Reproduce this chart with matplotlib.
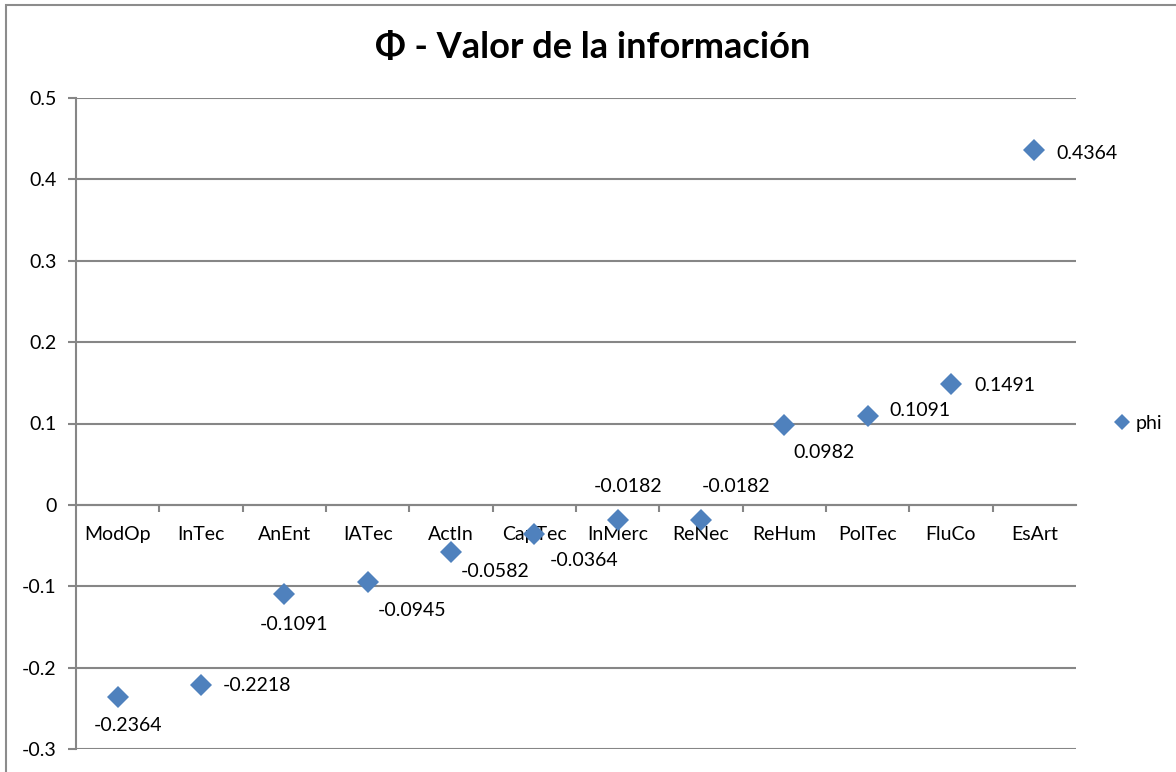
import matplotlib.pyplot as plt
from matplotlib.patches import Rectangle
from matplotlib.ticker import FixedLocator

categories = ["ModOp", "InTec", "AnEnt", "IATec", "ActIn", "CapTec",
              "InMerc", "ReNec", "ReHum", "PolTec", "FluCo", "EsArt"]
phi = [-0.2364, -0.2218, -0.1091, -0.0945, -0.0582, -0.0364,
       -0.0182, -0.0182, 0.0982, 0.1091, 0.1491, 0.4364]
yticks = [-0.3, -0.2, -0.1, 0, 0.1, 0.2, 0.3, 0.4, 0.5]

# label offsets in pixels (dx, dy) and horizontal alignment
px = 0.72
label_pos = [(10, -28, "center"), (22, 0, "left"), (10, -31, "center"),
             (44, -29, "center"), (44, -19, "center"), (50, -26, "center"),
             (10, 33, "center"), (35, 33, "center"), (40, -28, "center"),
             (22, 6, "left"), (23, -2, "left"), (22, -4, "left")]

plt.rcParams['font.family'] = ['Lato', 'DejaVu Sans']
blue = "#4F81BD"
grid = "#868686"
fs = 14

fig = plt.figure(figsize=(11.76, 7.72), dpi=100)
ax = fig.add_axes([76 / 1176, 1 - 749 / 772, 1000 / 1176, 651 / 772])

x = list(range(len(categories)))
ax.plot(x, phi, linestyle="none", marker="D", markersize=11,
        color=blue, markeredgewidth=0, label="phi", zorder=5, clip_on=False)

for xi, v, (dx, dy, ha) in zip(x, phi, label_pos):
    ax.annotate(f"{v:.4f}", (xi, v), xytext=(dx * px, dy * px),
                textcoords="offset points", ha=ha, va="center",
                fontsize=fs, color="black", zorder=6)

ax.set_xlim(-0.5, len(categories) - 0.5)
ax.set_ylim(-0.3, 0.5)
ax.set_yticks(yticks)
ax.set_yticklabels([f"{t:g}" for t in yticks])
ax.yaxis.grid(True, color=grid, linewidth=1.5)
ax.set_axisbelow(True)

for s in ["top", "right"]:
    ax.spines[s].set_visible(False)
ax.spines["left"].set_color(grid)
ax.spines["left"].set_linewidth(1.5)
ax.spines["bottom"].set_position(("data", 0))
ax.spines["bottom"].set_color(grid)
ax.spines["bottom"].set_linewidth(1.5)

ax.set_xticks(x)
ax.set_xticklabels(categories)
ax.xaxis.set_minor_locator(FixedLocator([i + 0.5 for i in x[:-1]]))
ax.tick_params(axis="x", which="major", length=0, pad=15, labelsize=fs)
ax.tick_params(axis="x", which="minor", length=5, width=1.5, color=grid,
               direction="out")
ax.tick_params(axis="y", length=6, width=1.5, color=grid, pad=8,
               labelsize=fs)

fig.text(593 / 1176, 1 - 48 / 772, "Φ - Valor de la información",
         ha="center", va="center", fontsize=26, fontweight="bold")

ax.legend(loc="center left", bbox_to_anchor=(1.03, 0.5), frameon=False,
          handlelength=0.6, handletextpad=0.4, borderpad=0, fontsize=fs,
          markerscale=0.75)

fig.patches.append(Rectangle((6 / 1176, -0.1), 1.2, 1.1 - 5 / 772,
                             transform=fig.transFigure, fill=False,
                             edgecolor="#8c8c8c", linewidth=1.5))

fig.savefig("out.png", dpi=100)
